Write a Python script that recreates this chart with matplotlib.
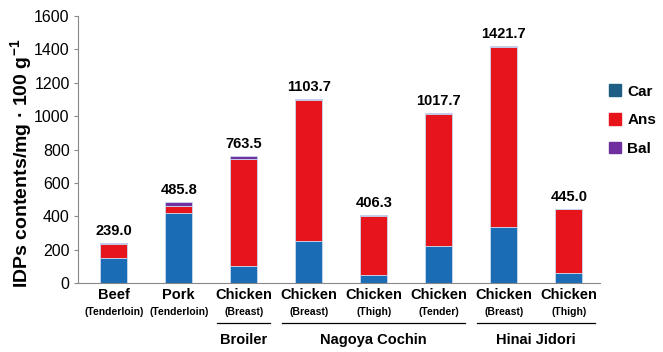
import matplotlib
matplotlib.use("Agg")
import matplotlib.pyplot as plt
import numpy as np

plt.rcParams['font.family'] = ['Liberation Sans', 'DejaVu Sans']
plt.rcParams['mathtext.fontset'] = 'custom'
plt.rcParams['mathtext.rm'] = 'Liberation Sans'
plt.rcParams['mathtext.bf'] = 'Liberation Sans:bold'

# данные
names = ["Beef", "Pork", "Chicken", "Chicken", "Chicken", "Chicken", "Chicken", "Chicken"]
parts = ["(Tenderloin)", "(Tenderloin)", "(Breast)", "(Breast)", "(Thigh)", "(Tender)", "(Breast)", "(Thigh)"]
car = [150, 420, 103, 250, 45, 222, 337, 58]
ans = [85, 40, 640, 847, 356, 790, 1077, 387]
bal = [4.0, 25.8, 20.5, 6.7, 5.3, 5.7, 7.7, 0.0]
totals = ["239.0", "485.8", "763.5", "1103.7", "406.3", "1017.7", "1421.7", "445.0"]
groups = ["Broiler", "Nagoya Cochin", "Hinai Jidori"]
group_span = [(2, 2), (3, 5), (6, 7)]

c_car = '#1a6cb4'
c_ans = '#e8141c'
c_bal = '#7030a0'

fig = plt.figure(figsize=(6.63, 3.52), dpi=100)
ax = fig.add_axes([78 / 663, 69 / 352, 522 / 663, 267 / 352])

x = np.arange(len(names))
car = np.array(car, dtype=float)
ans = np.array(ans, dtype=float)
bal = np.array(bal, dtype=float)
w = 0.42
ek = dict(edgecolor='#c8d8ee', linewidth=0.6)
ax.bar(x, car, w, color=c_car, **ek)
ax.bar(x, ans, w, bottom=car, color=c_ans, **ek)
ax.bar(x, bal, w, bottom=car + ans, color=c_bal, **ek)

top = car + ans + bal
for i in range(len(x)):
    ax.text(x[i], top[i] + 30, totals[i], ha='center', va='bottom',
            fontsize=10.5, fontweight='bold')

ax.set_xlim(-0.55, 7.48)
ax.set_ylim(0, 1600)
ax.set_yticks(range(0, 1601, 200))
ax.tick_params(axis='y', labelsize=11.5, length=3, color='#888888', pad=3)
ax.set_xticks([])
for s in ['top', 'right']:
    ax.spines[s].set_visible(False)
ax.spines['left'].set_color('#888888')
ax.spines['bottom'].set_color('#888888')

ax.set_ylabel(r"IDPs contents/mg · 100 g$^{\mathbf{-1}}$", fontsize=14,
              fontweight='bold')
ax.yaxis.set_label_coords(-0.083, 0.45)

tr = ax.get_xaxis_transform()
for i in range(len(x)):
    ax.text(x[i], -0.045, names[i], transform=tr, ha='center', va='center',
            fontsize=10.5, fontweight='bold')
    ax.text(x[i], -0.108, parts[i], transform=tr, ha='center', va='center',
            fontsize=7.5, fontweight='bold')

for g, (a, b) in zip(groups, group_span):
    ax.plot([a - 0.41, b + 0.41], [-0.15, -0.15], transform=tr, color='black',
            lw=0.9, clip_on=False)
    ax.text((a + b) / 2, -0.215, g, transform=tr, ha='center', va='center',
            fontsize=10.5, fontweight='bold')

handles = [plt.Rectangle((0, 0), 1, 1, color=c) for c in ['#1f5f86', c_ans, c_bal]]
fig.legend(handles, ["Car", "Ans", "Bal"], loc='upper left',
           bbox_to_anchor=(0.9, 0.795), frameon=False,
           prop={'size': 11, 'weight': 'bold'}, handlelength=0.8,
           handleheight=0.8, handletextpad=0.4, labelspacing=0.95,
           borderpad=0.3)

fig.savefig("out.png", dpi=100)
